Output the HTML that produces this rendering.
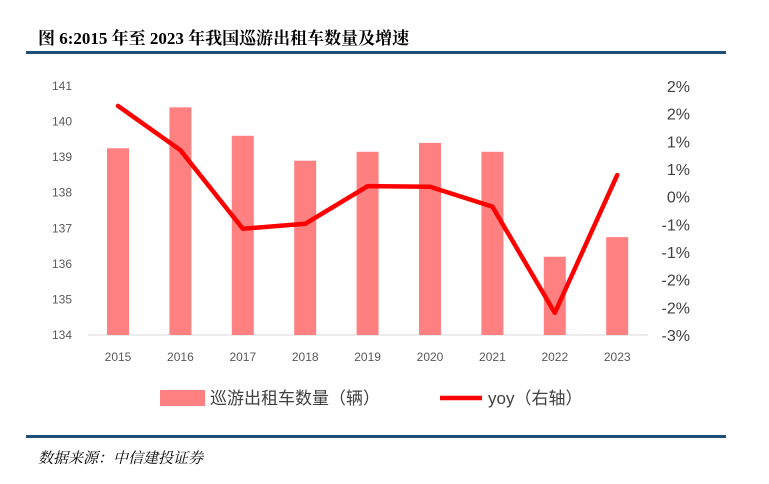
<!DOCTYPE html>
<html><head><meta charset="utf-8"><style>
body{margin:0;background:#fff;width:769px;height:484px;overflow:hidden;position:relative;font-family:"Liberation Sans","Noto Sans CJK SC",sans-serif}
.t{position:absolute;left:38px;top:24px;font:bold 17px "Liberation Serif","Noto Serif CJK SC",serif;color:#000}
.hl{position:absolute;left:26px;width:700px;height:3px;background:#1f4e79}
.src{position:absolute;left:38px;top:447px;font:italic 15px "Liberation Serif","Noto Serif CJK SC",serif;color:#000}
</style></head><body>
<div class="t">图 6:2015 年至 2023 年我国巡游出租车数量及增速</div>
<div class="hl" style="top:51px"></div>
<div class="hl" style="top:435px"></div>
<div class="src">数据来源：中信建投证券</div>
<svg id="c" width="769" height="484" style="position:absolute;left:0;top:0"></svg>
<script>
const categories=["2015","2016","2017","2018","2019","2020","2021","2022","2023"];
const taxiCounts=[139.25,140.4,139.6,138.9,139.15,139.4,139.15,136.2,136.75];
const yoyPct=[1.64,0.84,-0.58,-0.49,0.19,0.18,-0.18,-2.1,0.39];
const leftTicks=[134,135,136,137,138,139,140,141];
const rightTicks=[2,1.5,1,0.5,0,-0.5,-1,-1.5,-2,-2.5];
const rightTickLabels=["2%","2%","1%","1%","0%","-1%","-1%","-2%","-2%","-3%"];
const svg=document.getElementById('c');const NS='http://www.w3.org/2000/svg';
function mk(tag,a,txt){const e=document.createElementNS(NS,tag);for(const k in a)e.setAttribute(k,a[k]);if(txt!=null)e.textContent=txt;svg.appendChild(e);return e;}
const plotTop=86,plotBot=335;
const yL=v=>plotBot-(v-134)/(141-134)*(plotBot-plotTop);
const yR=v=>plotBot-(v+2.5)/(4.5)*(plotBot-plotTop);
const x=i=>118+i*62.4;
const ax=mk('line',{x1:88,x2:648,y1:plotBot,y2:plotBot,stroke:'#d9d9d9','stroke-width':1});

leftTicks.forEach(v=>{const t=mk('text',{x:72,y:yL(v)+4,'text-anchor':'end','font-size':12,fill:'#595959'},v);
});
rightTicks.forEach((v,i)=>{const t=mk('text',{x:690,y:yR(v)+6,'text-anchor':'end','font-size':16,fill:'#404040'},rightTickLabels[i]);
});
categories.forEach((c,i)=>{
const b=mk('rect',{x:x(i)-11,y:yL(taxiCounts[i]),width:22,height:plotBot-yL(taxiCounts[i]),fill:'#ff8080'});

const t=mk('text',{x:x(i),y:361,'text-anchor':'middle','font-size':12,fill:'#595959'},c);
});
const ln=mk('polyline',{points:yoyPct.map((v,i)=>x(i)+','+yR(v)).join(' '),fill:'none',stroke:'#ff0000','stroke-width':4.5,'stroke-linejoin':'round','stroke-linecap':'round'});

const l1=mk('rect',{x:160,y:390,width:45,height:16,fill:'#ff8080'});

const l2=mk('text',{x:210,y:404,'font-size':17,fill:'#404040'},'巡游出租车数量（辆）');

const l3=mk('line',{x1:440,x2:482,y1:398,y2:398,stroke:'#ff0000','stroke-width':4.5});

const l4=mk('text',{x:488,y:404,'font-size':17,fill:'#404040'},'yoy（右轴）');

</script>
</body></html>
